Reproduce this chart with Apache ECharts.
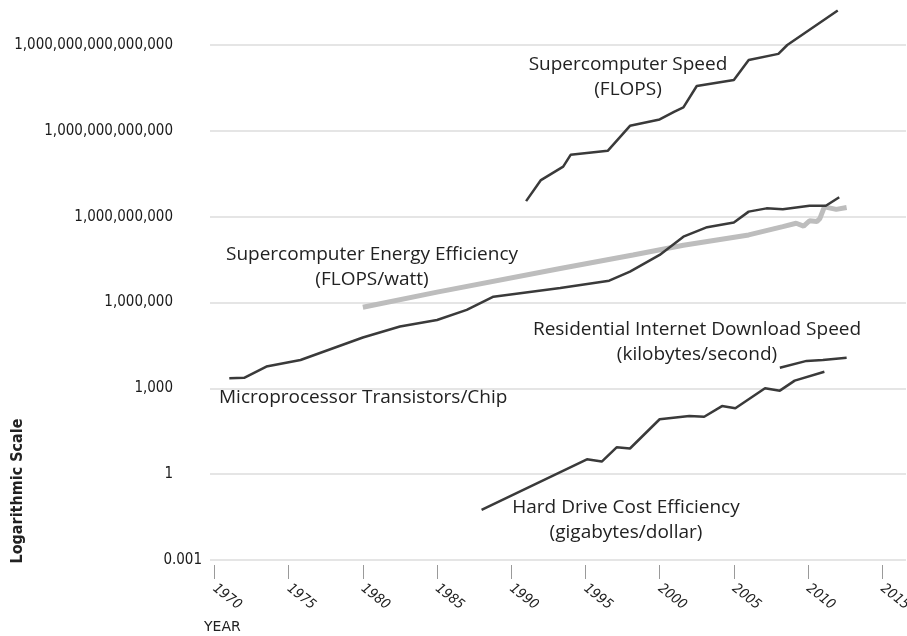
<!DOCTYPE html>
<html>
<head>
<meta charset="utf-8">
<script src="https://cdn.jsdelivr.net/npm/echarts@6/dist/echarts.min.js"></script>
<style>
  html, body { margin: 0; padding: 0; background: #fff; }
  #main { width: 907px; height: 636px; }
</style>
</head>
<body>
<div id="main"></div>
<script>
// tick labels
const yearTicks = [1970, 1975, 1980, 1985, 1990, 1995, 2000, 2005, 2010, 2015];

// Supercomputer Speed (FLOPS)
const speedYears = [1991, 1992, 1993.5, 1994, 1996.5, 1998, 2000, 2001, 2001.6, 2002.5, 2005, 2006, 2008, 2008.6, 2012];
const speedValues = [3.5e9, 1.9e10, 5.6e10, 1.45e11, 2.0e11, 1.5e12, 2.5e12, 4.7e12, 6.6e12, 3.7e13, 6.0e13, 3.0e14, 4.9e14, 1.0e15, 1.6e16];

// Microprocessor Transistors/Chip
const transYears = [1971, 1972, 1973.5, 1975.8, 1980, 1982.5, 1985, 1987, 1988.8, 1993.3, 1996.6, 1998, 2000, 2001.6, 2003.2, 2005, 2006, 2007.2, 2008.3, 2010.1, 2011.2, 2012.1];
const transValues = [2240, 2340, 5750, 9800, 60000, 145000, 245000, 550000, 1.6e6, 3.2e6, 5.8e6, 1.2e7, 4.6e7, 2.0e8, 4.3e8, 6.2e8, 1.5e9, 1.95e9, 1.8e9, 2.4e9, 2.4e9, 4.8e9];

// Supercomputer Energy Efficiency (FLOPS/watt)
const energyYears = [1980, 1985, 1993.3, 1998.2, 2001.6, 2006, 2008.3, 2009.2, 2009.7, 2010.1, 2010.6, 2010.8, 2011.1, 2011.9, 2012.6];
const energyValues = [6.8e5, 2.3e6, 1.55e7, 4.6e7, 1.0e8, 2.3e8, 4.5e8, 5.9e8, 4.7e8, 7.2e8, 6.8e8, 8.7e8, 2.2e9, 1.8e9, 2.1e9];

// Hard Drive Cost Efficiency (gigabytes/dollar)
const hddYears = [1988, 1995.1, 1996.1, 1997.1, 1998, 2000, 2002, 2003, 2004.2, 2005.1, 2007.1, 2008.1, 2009.1, 2011.1];
const hddValues = [0.056, 3.3, 2.75, 8.7, 7.9, 83, 107, 102, 240, 200, 1000, 830, 1860, 3800];

// Residential Internet Download Speed (kilobytes/second)
const netYears = [2008.1, 2009.9, 2011, 2012.6];
const netValues = [5250, 9100, 9800, 11700];

function pairs(xs, ys) {
  return xs.map((x, i) => [x, ys[i]]);
}

const textFont = "Open Sans";
const dark = "#3a3a3a";

let chartDom = echarts.init(document.getElementById("main"));

chartDom.setOption({
  backgroundColor: "#fff",
  animation: false,
  grid: {
    left: 210,
    right: 1,
    top: 45,
    bottom: 76,
    containLabel: false,
    outerBoundsMode: "none",
  },
  xAxis: {
    type: "value",
    min: 1969.7,
    max: 2016.6,
    offset: 5,
    axisLine: { show: false },
    splitLine: { show: false },
    axisTick: {
      show: true,
      length: 14,
      customValues: yearTicks,
      lineStyle: { color: "#9a9a9a", width: 1 },
    },
    axisLabel: {
      customValues: yearTicks,
      rotate: -38,
      margin: 22,
      color: "#222",
      fontFamily: "DejaVu Sans Condensed",
      fontSize: 14,
      fontStyle: "italic",
      formatter: (v) => String(v),
    },
  },
  yAxis: {
    type: "log",
    logBase: 1000,
    min: 0.001,
    max: 1e15,
    axisLine: { show: false },
    axisTick: { show: false },
    splitLine: {
      show: true,
      lineStyle: { color: "#dcdcdc", width: 1.5 },
    },
    axisLabel: {
      margin: 8,
      formatter: function (v) {
        if (v < 1) return "{s|0.001}";
        return "{n|" + Math.round(v).toLocaleString("en-US") + "}";
      },
      rich: {
        n: {
          fontFamily: "DejaVu Sans Condensed",
          fontSize: 15,
          color: "#1a1a1a",
          padding: [0, 29, 0, 0],
        },
        s: {
          fontFamily: "DejaVu Sans Condensed",
          fontSize: 15,
          color: "#1a1a1a",
        },
      },
    },
  },
  series: [
    {
      name: "Supercomputer Energy Efficiency",
      type: "line",
      data: pairs(energyYears, energyValues),
      showSymbol: false,
      clip: false,
      lineStyle: { color: "#bdbdbd", width: 5 },
      itemStyle: { color: "#bdbdbd" },
    },
    {
      name: "Supercomputer Speed",
      type: "line",
      data: pairs(speedYears, speedValues),
      showSymbol: false,
      clip: false,
      lineStyle: { color: dark, width: 2.5 },
      itemStyle: { color: dark },
    },
    {
      name: "Microprocessor Transistors/Chip",
      type: "line",
      data: pairs(transYears, transValues),
      showSymbol: false,
      clip: false,
      lineStyle: { color: dark, width: 2.5 },
      itemStyle: { color: dark },
    },
    {
      name: "Hard Drive Cost Efficiency",
      type: "line",
      data: pairs(hddYears, hddValues),
      showSymbol: false,
      clip: false,
      lineStyle: { color: dark, width: 2.5 },
      itemStyle: { color: dark },
    },
    {
      name: "Residential Internet Download Speed",
      type: "line",
      data: pairs(netYears, netValues),
      showSymbol: false,
      clip: false,
      lineStyle: { color: dark, width: 2.5 },
      itemStyle: { color: dark },
    },
  ],
  graphic: [
    {
      type: "text",
      x: 18,
      y: 491,
      rotation: Math.PI / 2,
      style: {
        text: "Logarithmic Scale",
        fontFamily: "DejaVu Sans Condensed",
        fontWeight: "bold",
        fontSize: 16,
        fill: "#222",
        align: "center",
        verticalAlign: "middle",
      },
    },
    {
      type: "text",
      x: 204,
      y: 627,
      style: {
        text: "YEAR",
        fontFamily: "DejaVu Sans",
        fontSize: 14,
        fill: "#222",
        align: "left",
        verticalAlign: "middle",
      },
    },
    {
      type: "text",
      x: 628,
      y: 77.5,
      style: {
        text: "Supercomputer Speed\n(FLOPS)",
        fontFamily: textFont,
        fontSize: 19,
        lineHeight: 25,
        fill: "#222",
        align: "center",
        verticalAlign: "middle",
      },
    },
    {
      type: "text",
      x: 372,
      y: 267.5,
      style: {
        text: "Supercomputer Energy Efficiency\n(FLOPS/watt)",
        fontFamily: textFont,
        fontSize: 19,
        lineHeight: 25,
        fill: "#222",
        align: "center",
        verticalAlign: "middle",
      },
    },
    {
      type: "text",
      x: 219,
      y: 398,
      style: {
        text: "Microprocessor Transistors/Chip",
        fontFamily: textFont,
        fontSize: 19,
        fill: "#222",
        align: "left",
        verticalAlign: "middle",
      },
    },
    {
      type: "text",
      x: 697,
      y: 342.5,
      style: {
        text: "Residential Internet Download Speed\n(kilobytes/second)",
        fontFamily: textFont,
        fontSize: 19,
        lineHeight: 25,
        fill: "#222",
        align: "center",
        verticalAlign: "middle",
      },
    },
    {
      type: "text",
      x: 626,
      y: 520.5,
      style: {
        text: "Hard Drive Cost Efficiency\n(gigabytes/dollar)",
        fontFamily: textFont,
        fontSize: 19,
        lineHeight: 25,
        fill: "#222",
        align: "center",
        verticalAlign: "middle",
      },
    },
  ],
});

window.addEventListener("resize", () => {
  chartDom.resize();
});
</script>
</body>
</html>
